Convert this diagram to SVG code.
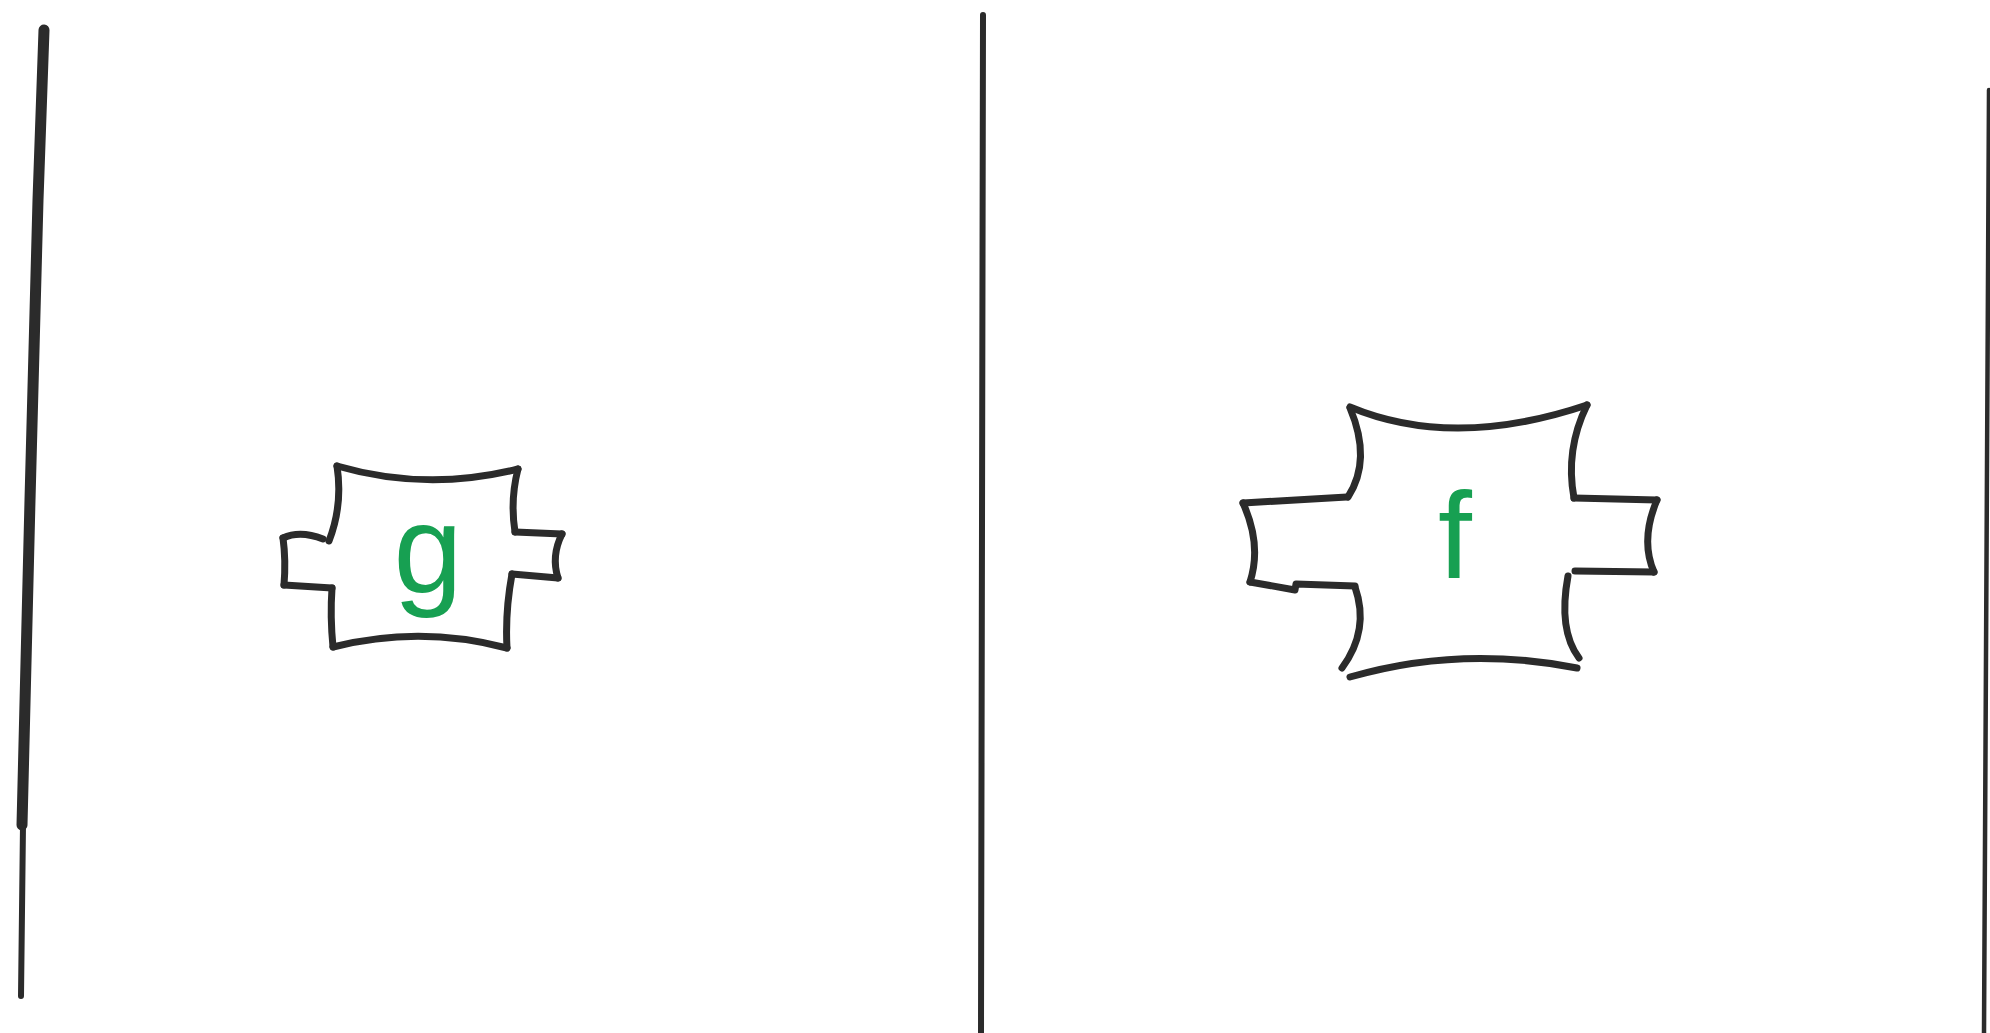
<svg xmlns="http://www.w3.org/2000/svg" width="1990" height="1033" viewBox="0 0 1990 1033">
<style>
.ln{fill:none;stroke:#2b2b2b;stroke-linecap:round;stroke-linejoin:round}
.bx{fill:none;stroke:#2b2b2b;stroke-width:7;stroke-linecap:round;stroke-linejoin:round}
.lbl{fill:#17a052;font-family:"Liberation Sans",Arial,sans-serif;text-anchor:middle}
</style>
<rect width="1990" height="1033" fill="#ffffff"/>
<g id="dividers">
<path class="ln" d="M44,30 L38,200 L30,500 L22,825" stroke-width="11"/>
<path class="ln" d="M23,825 L21,996" stroke-width="6"/>
<path class="ln" d="M983,15 L981,1033" stroke-width="6"/>
<path class="ln" d="M1989,90 L1984,1033" stroke-width="4.5"/>
</g>
<g id="node-g">
<path class="bx" d="M337,466 Q427,492 518,469"/>
<path class="bx" d="M518,469 Q510,500 515,532"/>
<path class="bx" d="M515,532 L562,534"/>
<path class="bx" d="M562,534 Q551,556 558,578"/>
<path class="bx" d="M558,578 L512,574"/>
<path class="bx" d="M512,574 Q505,612 507,648"/>
<path class="bx" d="M507,648 Q420,625 333,647"/>
<path class="bx" d="M333,647 Q330,617 332,588"/>
<path class="bx" d="M332,588 L284,585"/>
<path class="bx" d="M284,585 Q286,560 283,538"/>
<path class="bx" d="M283,538 Q300,530 323,539"/>
<path class="bx" d="M329,541 Q343,505 337,466"/>
<text class="lbl" x="428" y="592" font-size="124">g</text>
</g>
<g id="node-f">
<path class="bx" d="M1350,407 Q1453,450 1587,405"/>
<path class="bx" d="M1587,405 Q1565,450 1574,498"/>
<path class="bx" d="M1574,498 L1657,500"/>
<path class="bx" d="M1657,500 Q1640,540 1654,572"/>
<path class="bx" d="M1654,572 L1575,571"/>
<path class="bx" d="M1568,576 Q1558,630 1579,658"/>
<path class="bx" d="M1577,668 Q1460,645 1350,677"/>
<path class="bx" d="M1342,668 Q1370,630 1355,587"/>
<path class="bx" d="M1355,586 L1296,584 L1295,590 L1250,582"/>
<path class="bx" d="M1250,582 Q1262,545 1243,503"/>
<path class="bx" d="M1243,503 L1347,497"/>
<path class="bx" d="M1348,497 Q1372,460 1350,408"/>
<text class="lbl" x="1455" y="578" font-size="122">f</text>
</g>
</svg>
